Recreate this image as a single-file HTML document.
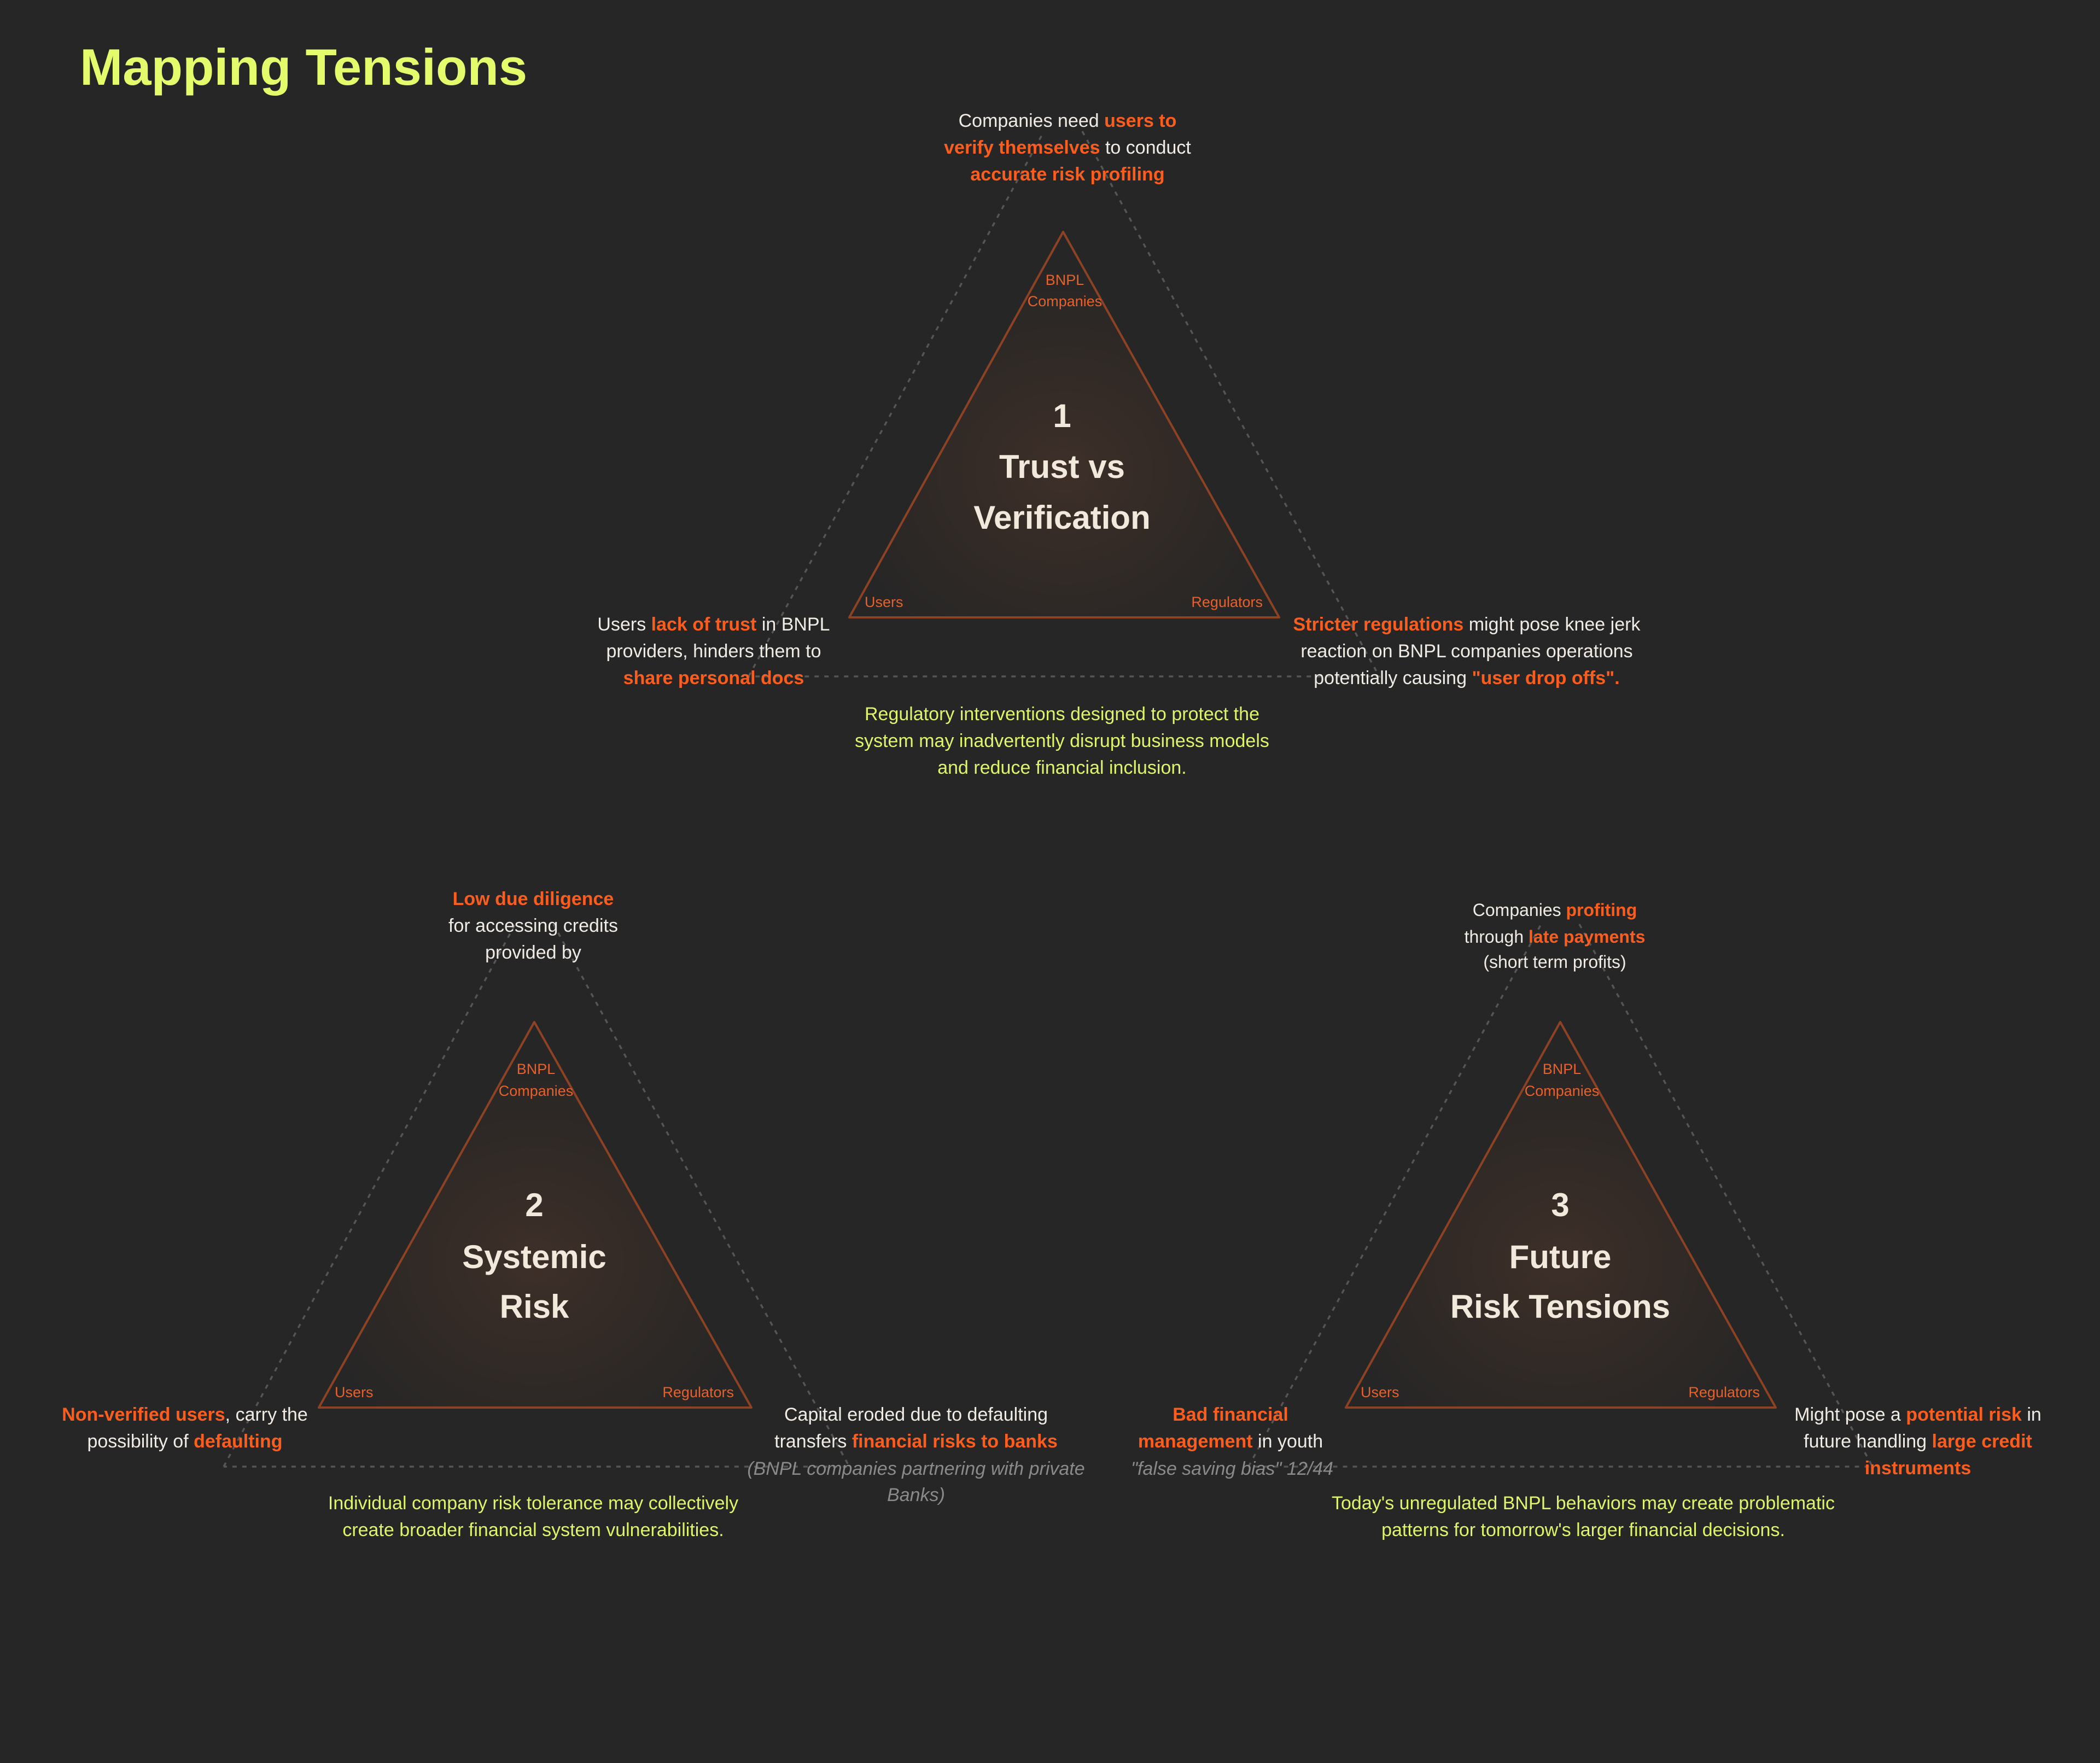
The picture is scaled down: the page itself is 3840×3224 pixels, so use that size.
<!DOCTYPE html>
<html><head><meta charset="utf-8"><style>
html,body{margin:0;padding:0;background:#262626;}
svg{display:block}
text{font-family:"Liberation Sans",sans-serif;}
.b{font-size:34px;fill:#f0ebe4;text-anchor:middle}
.o{fill:#fb5d1e;font-weight:bold}
.c{font-size:34px;fill:#dff36b;text-anchor:middle}
.g{font-size:34px;fill:#8a8a8a;font-style:italic;text-anchor:middle}
.l{font-size:27px;fill:#e8602a}
.h{font-size:60px;font-weight:bold;fill:#f2e9dd;text-anchor:middle}
.tri{stroke:#8e4224;stroke-width:4;stroke-linejoin:round}
.out{fill:none;stroke:#555;stroke-width:3.5;stroke-dasharray:8 10}
</style></head><body>
<svg width="3840" height="3224" viewBox="0 0 3840 3224" xmlns="http://www.w3.org/2000/svg">
<defs>
<radialGradient id="gl" cx="50%" cy="62%" r="55%">
<stop offset="0" stop-color="#3e2f28"/><stop offset="0.6" stop-color="#2f2926"/><stop offset="1" stop-color="#262626"/>
</radialGradient>
</defs>
<rect width="3840" height="3224" fill="#262626"/>
<text x="146" y="155" style="font-size:94px;font-weight:bold;fill:#e4fb6c">Mapping Tensions</text>

<!-- Triangle 1 -->
<path class="out" d="M1369,1237 L1909,240 M1979,240 L2522,1237 L1369,1237"/>
<polygon class="tri" fill="url(#gl)" points="1944,424 1553,1129 2339,1129"/>
<text class="l" x="1947" y="521" text-anchor="middle">BNPL</text>
<text class="l" x="1947" y="560" text-anchor="middle">Companies</text>
<text class="l" x="1581" y="1110">Users</text>
<text class="l" x="2309" y="1110" text-anchor="end">Regulators</text>
<text class="h" x="1942" y="781">1</text>
<text class="h" x="1942" y="874">Trust vs</text>
<text class="h" x="1942" y="967">Verification</text>
<text class="b" x="1952" y="232">Companies need <tspan class="o">users to</tspan></text>
<text class="b" x="1952" y="281"><tspan class="o">verify themselves</tspan> to conduct</text>
<text class="b" x="1952" y="330"><tspan class="o">accurate risk profiling</tspan></text>
<text class="b" x="1305" y="1153">Users <tspan class="o">lack of trust</tspan> in BNPL</text>
<text class="b" x="1305" y="1202">providers, hinders them to</text>
<text class="b" x="1305" y="1251"><tspan class="o">share personal docs</tspan></text>
<text class="b" x="2682" y="1153"><tspan class="o">Stricter regulations</tspan> might pose knee jerk</text>
<text class="b" x="2682" y="1202">reaction on BNPL companies operations</text>
<text class="b" x="2682" y="1251">potentially causing <tspan class="o">"user drop offs".</tspan></text>
<text class="c" x="1942" y="1317">Regulatory interventions designed to protect the</text>
<text class="c" x="1942" y="1366">system may inadvertently disrupt business models</text>
<text class="c" x="1942" y="1415">and reduce financial inclusion.</text>

<!-- Triangle 2 -->
<path class="out" d="M409,2682 L942,1690 M1012,1690 L1553,2682 L409,2682"/>
<polygon class="tri" fill="url(#gl)" points="977,1869 583,2574 1374,2574"/>
<text class="l" x="980" y="1964" text-anchor="middle">BNPL</text>
<text class="l" x="980" y="2004" text-anchor="middle">Companies</text>
<text class="l" x="612" y="2555">Users</text>
<text class="l" x="1342" y="2555" text-anchor="end">Regulators</text>
<text class="h" x="977" y="2224">2</text>
<text class="h" x="977" y="2319">Systemic</text>
<text class="h" x="977" y="2410">Risk</text>
<text class="b" x="975" y="1655"><tspan class="o">Low due diligence</tspan></text>
<text class="b" x="975" y="1704">for accessing credits</text>
<text class="b" x="975" y="1753">provided by</text>
<text class="b" x="338" y="2598"><tspan class="o">Non-verified users</tspan>, carry the</text>
<text class="b" x="338" y="2647">possibility of <tspan class="o">defaulting</tspan></text>
<text class="b" x="1675" y="2598">Capital eroded due to defaulting</text>
<text class="b" x="1675" y="2647">transfers <tspan class="o">financial risks to banks</tspan></text>
<text class="g" x="1675" y="2697">(BNPL companies partnering with private</text>
<text class="g" x="1675" y="2745">Banks)</text>
<text class="c" x="975" y="2760">Individual company risk tolerance may collectively</text>
<text class="c" x="975" y="2809">create broader financial system vulnerabilities.</text>

<!-- Triangle 3 -->
<path class="out" d="M2283,2682 L2818,1690 M2888,1690 L3424,2682 L2283,2682"/>
<polygon class="tri" fill="url(#gl)" points="2853,1869 2461,2574 3247,2574"/>
<text class="l" x="2856" y="1964" text-anchor="middle">BNPL</text>
<text class="l" x="2856" y="2004" text-anchor="middle">Companies</text>
<text class="l" x="2488" y="2555">Users</text>
<text class="l" x="3218" y="2555" text-anchor="end">Regulators</text>
<text class="h" x="2853" y="2224">3</text>
<text class="h" x="2853" y="2319">Future</text>
<text class="h" x="2853" y="2410">Risk Tensions</text>
<text class="b" x="2843" y="1675" style="font-size:32px">Companies <tspan class="o">profiting</tspan></text>
<text class="b" x="2843" y="1724" style="font-size:32px">through <tspan class="o">late payments</tspan></text>
<text class="b" x="2843" y="1770" style="font-size:32px">(short term profits)</text>
<text class="b" x="2250" y="2598"><tspan class="o">Bad financial</tspan></text>
<text class="b" x="2250" y="2647"><tspan class="o">management</tspan> in youth</text>
<text class="g" x="2253" y="2697">"false saving bias" 12/44</text>
<text class="b" x="3507" y="2598">Might pose a <tspan class="o">potential risk</tspan> in</text>
<text class="b" x="3507" y="2647">future handling <tspan class="o">large credit</tspan></text>
<text class="b" x="3507" y="2696"><tspan class="o">instruments</tspan></text>
<text class="c" x="2895" y="2760">Today's unregulated BNPL behaviors may create problematic</text>
<text class="c" x="2895" y="2809">patterns for tomorrow's larger financial decisions.</text>
</svg>
</body></html>
